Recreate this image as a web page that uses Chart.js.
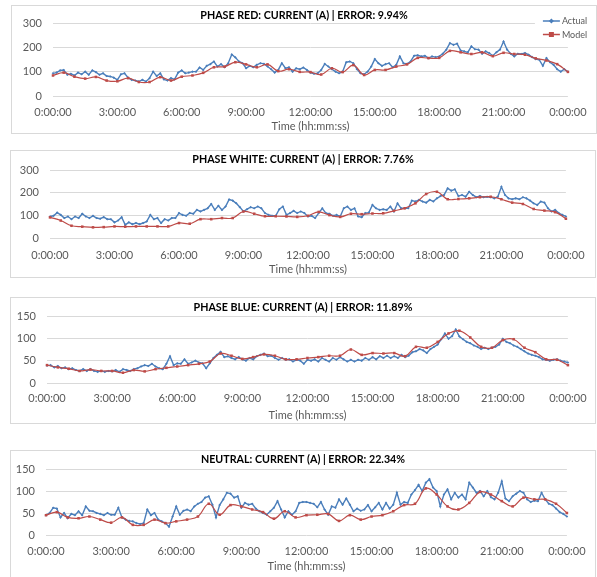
<!DOCTYPE html>
<html>
<head>
<meta charset="utf-8">
<script src="https://cdn.jsdelivr.net/npm/chart.js@4/dist/chart.umd.min.js"></script>
<style>
  html, body { margin: 0; padding: 0; background: #fff; }
  body { width: 597px; height: 577px; position: relative; overflow: hidden; }
  .panel { position: absolute; border: 1px solid #d9d9d9; box-sizing: border-box; background: #fff; }
  .panel canvas { display: block; }
</style>
</head>
<body>
<div class="panel" id="panel-red"><canvas id="chart-red"></canvas></div>
<div class="panel" id="panel-white"><canvas id="chart-white"></canvas></div>
<div class="panel" id="panel-blue"><canvas id="chart-blue"></canvas></div>
<div class="panel" id="panel-neutral"><canvas id="chart-neutral"></canvas></div>
<script>
// === Data: actual every 10 min (145 pts), model every 30 min (49 pts) ===
const timeTicks = ["0:00:00", "3:00:00", "6:00:00", "9:00:00", "12:00:00",
  "15:00:00", "18:00:00", "21:00:00", "0:00:00"];

const actualRed = [
  94, 97, 106, 108, 88, 92,
  85, 97, 90, 101, 88, 106,
  99, 88, 94, 83, 81, 76,
  67, 90, 94, 76, 67, 64,
  60, 67, 60, 74, 101, 83,
  94, 69, 64, 74, 69, 97,
  106, 94, 97, 101, 101, 118,
  108, 125, 132, 143, 122, 132,
  119, 136, 172, 160, 143, 136,
  115, 125, 119, 129, 136, 133,
  122, 111, 97, 108, 136, 115,
  119, 101, 115, 111, 118, 108,
  97, 92, 94, 108, 133, 122,
  111, 101, 94, 101, 140, 143,
  136, 111, 94, 90, 101, 122,
  153, 136, 125, 132, 136, 119,
  129, 164, 136, 133, 143, 167,
  169, 164, 167, 157, 164, 161,
  164, 175, 192, 219, 212, 217,
  189, 185, 181, 206, 194, 192,
  175, 185, 178, 167, 181, 192,
  226, 192, 175, 164, 175, 174,
  178, 171, 161, 153, 150, 125,
  157, 140, 129, 111, 101, 111,
  100
];
const modelRed = [
  85, 97, 80, 72, 79, 64, 61, 74, 58, 58,
  78, 64, 80, 85, 96, 119, 122, 140, 131, 119,
  131, 103, 111, 100, 99, 89, 115, 99, 128, 87,
  108, 108, 122, 131, 158, 157, 158, 187, 181, 174,
  181, 165, 179, 174, 171, 156, 147, 132, 100
];

const actualWhite = [
  95, 98, 112, 102, 88, 95,
  83, 95, 88, 107, 95, 88,
  98, 88, 85, 92, 83, 83,
  69, 77, 92, 58, 69, 61,
  66, 61, 66, 73, 102, 83,
  88, 66, 83, 77, 88, 88,
  110, 102, 98, 110, 107, 124,
  117, 124, 131, 150, 124, 142,
  124, 139, 170, 165, 153, 136,
  117, 127, 136, 131, 139, 131,
  110, 102, 98, 98, 127, 139,
  102, 110, 120, 110, 117, 110,
  95, 98, 88, 110, 131, 110,
  107, 98, 102, 95, 131, 139,
  124, 131, 95, 92, 110, 112,
  146, 131, 124, 127, 124, 139,
  117, 153, 131, 131, 131, 165,
  161, 168, 161, 156, 168, 161,
  175, 185, 190, 219, 209, 215,
  185, 190, 182, 204, 190, 180,
  185, 180, 182, 180, 175, 182,
  226, 190, 175, 171, 175, 171,
  180, 175, 165, 153, 146, 161,
  156, 131, 117, 124, 110, 102,
  95
];
const modelWhite = [
  91, 77, 54, 50, 47, 48, 51, 50, 51, 51,
  51, 51, 66, 63, 83, 83, 88, 88, 117, 107,
  96, 96, 95, 93, 98, 115, 101, 93, 107, 105,
  108, 109, 120, 131, 153, 194, 204, 171, 172, 175,
  180, 182, 171, 156, 150, 128, 121, 114, 85
];

const actualBlue = [
  39, 40, 35, 38, 33, 35,
  31, 33, 29, 27, 31, 27,
  31, 27, 25, 27, 25, 27,
  26, 29, 25, 31, 29, 27,
  31, 33, 37, 40, 38, 43,
  37, 33, 31, 43, 60, 40,
  44, 43, 53, 43, 46, 50,
  46, 44, 33, 44, 56, 63,
  70, 58, 60, 56, 53, 58,
  53, 50, 56, 53, 60, 63,
  66, 60, 61, 56, 52, 56,
  52, 53, 48, 52, 50, 43,
  52, 50, 53, 48, 56, 52,
  48, 56, 52, 58, 53, 48,
  52, 48, 52, 50, 56, 52,
  58, 53, 60, 56, 61, 56,
  60, 56, 63, 58, 61, 69,
  71, 76, 73, 67, 76, 81,
  86, 98, 111, 99, 105, 120,
  104, 98, 92, 89, 84, 81,
  76, 79, 76, 79, 81, 86,
  99, 92, 89, 84, 81, 76,
  71, 66, 63, 61, 58, 53,
  52, 50, 52, 53, 50, 48,
  46
];
const modelBlue = [
  40, 35, 32, 27, 30, 27, 27, 23, 29, 26,
  31, 34, 37, 40, 43, 48, 66, 61, 54, 58,
  64, 61, 53, 53, 56, 58, 61, 61, 75, 63,
  67, 66, 67, 60, 81, 79, 92, 111, 117, 102,
  81, 79, 96, 98, 79, 69, 53, 52, 40
];

const actualNeutral = [
  45, 50, 62, 60, 40, 50,
  38, 48, 45, 54, 45, 65,
  55, 54, 50, 48, 45, 50,
  46, 46, 62, 40, 35, 32,
  31, 27, 25, 27, 58, 45,
  50, 35, 31, 27, 19, 42,
  65, 46, 55, 58, 54, 65,
  71, 75, 85, 88, 69, 40,
  68, 81, 96, 94, 85, 88,
  62, 73, 69, 71, 60, 54,
  50, 46, 54, 62, 77, 58,
  40, 54, 46, 54, 73, 75,
  75, 73, 71, 63, 75, 58,
  46, 65, 62, 81, 69, 83,
  69, 54, 60, 55, 58, 68,
  54, 63, 73, 58, 73, 60,
  69, 96, 69, 75, 73, 92,
  102, 114, 100, 119, 127, 108,
  100, 65, 92, 104, 81, 96,
  85, 92, 81, 119, 108, 96,
  100, 88, 100, 86, 81, 96,
  122, 83, 77, 88, 94, 100,
  96, 81, 75, 78, 77, 96,
  81, 71, 68, 60, 52, 48,
  42
];
const modelNeutral = [
  45, 52, 40, 38, 42, 35, 28, 40, 23, 23,
  35, 27, 31, 35, 42, 71, 46, 68, 65, 58,
  52, 37, 54, 40, 45, 46, 48, 32, 45, 35,
  42, 45, 54, 68, 71, 106, 92, 65, 58, 73,
  98, 92, 77, 65, 85, 81, 81, 71, 50
];

// === Styling ===
const BLUE = "#4a7ebb";
const RED = "#be4b48";
const FONT = "Lato, 'Open Sans', sans-serif";
const TICK_COLOR = "#595959";

// Panel geometry (page px): box [x, y, w, h], plot edges, text centre lines
const panels = [
  { key: "red", title: "PHASE RED: CURRENT (A) | ERROR: 9.94%", actual: actualRed, model: modelRed,
    yMax: 300, yStep: 100, box: [11, 5, 586, 129], plot: { left: 53, right: 570, top: 23, bottom: 96 },
    titleY: 15, tickY: 112, xTitleY: 126, legend: true },
  { key: "white", title: "PHASE WHITE: CURRENT (A) | ERROR: 7.76%", actual: actualWhite, model: modelWhite,
    yMax: 300, yStep: 100, box: [10, 150, 586, 128], plot: { left: 50, right: 569, top: 170, bottom: 238 },
    titleY: 160, tickY: 255, xTitleY: 269 },
  { key: "blue", title: "PHASE BLUE: CURRENT (A) | ERROR: 11.89%", actual: actualBlue, model: modelBlue,
    yMax: 150, yStep: 50, box: [10, 297, 586, 127], plot: { left: 47, right: 575, top: 316, bottom: 383 },
    titleY: 308, tickY: 398, xTitleY: 415 },
  { key: "neutral", title: "NEUTRAL: CURRENT (A) | ERROR: 22.34%", actual: actualNeutral, model: modelNeutral,
    yMax: 150, yStep: 50, box: [10, 450, 586, 135], plot: { left: 46, right: 575, top: 469, bottom: 535 },
    titleY: 460, tickY: 551, xTitleY: 566 }
];

const toPoints = (arr, step) => arr.map((v, i) => ({ x: i * step, y: v }));

// Excel-style legend box in the top-right corner
const cornerLegend = {
  id: "cornerLegend",
  beforeDatasetsDraw(chart, args, opts) {
    if (!opts.show) return;
    const ctx = chart.ctx;
    const r = chart.chartArea.right;
    ctx.save();
    ctx.fillStyle = "#fff";
    ctx.fillRect(r - 33, opts.top, chart.width - r + 33, 28);
    const items = [
      { label: "Actual", color: BLUE, y: opts.top + 8, shape: "diamond" },
      { label: "Model", color: RED, y: opts.top + 21.5, shape: "square" }
    ];
    items.forEach((it) => {
      ctx.strokeStyle = it.color;
      ctx.fillStyle = it.color;
      ctx.lineWidth = 1.5;
      ctx.beginPath();
      ctx.moveTo(r - 25, it.y);
      ctx.lineTo(r - 8, it.y);
      ctx.stroke();
      const cx = r - 16.5;
      ctx.beginPath();
      if (it.shape === "diamond") {
        ctx.moveTo(cx, it.y - 2.5); ctx.lineTo(cx + 2.5, it.y);
        ctx.lineTo(cx, it.y + 2.5); ctx.lineTo(cx - 2.5, it.y);
      } else {
        ctx.rect(cx - 2.5, it.y - 2.5, 5, 5);
      }
      ctx.fill();
      ctx.fillStyle = TICK_COLOR;
      ctx.font = `9px ${FONT}`;
      ctx.textBaseline = "middle";
      ctx.fillText(it.label, r - 6, it.y + 0.5);
    });
    ctx.restore();
  }
};

function renderPanel(p) {
  const el = document.getElementById(`panel-${p.key}`);
  const [bx, by, bw, bh] = p.box;
  Object.assign(el.style, { left: bx + "px", top: by + "px", width: bw + "px", height: bh + "px" });
  const ox = bx + 1, oy = by + 1;
  const cw = bw - 2, ch = bh - 2;
  const canvas = document.getElementById(`chart-${p.key}`);
  canvas.width = cw; canvas.height = ch;
  canvas.style.width = cw + "px"; canvas.style.height = ch + "px";

  const rightSpace = cw - (p.plot.right - ox);
  const yWidth = p.plot.left - ox;
  const titleSize = 10.7, titleLH = titleSize * 1.2;
  const tickLH = 11 * 1.2;
  const xBottom = p.xTitleY - oy + tickLH / 2;
  const xHeight = xBottom - (p.plot.bottom - oy);

  new Chart(canvas, {
    type: "line",
    data: {
      datasets: [
        { label: "Actual", data: toPoints(p.actual, 1 / 6), borderColor: BLUE, backgroundColor: BLUE,
          borderWidth: 1.4, pointStyle: "rectRot", pointRadius: 1.3, pointBorderWidth: 0, tension: 0, order: 1 },
        { label: "Model", data: toPoints(p.model, 0.5), borderColor: RED, backgroundColor: RED,
          borderWidth: 1.2, pointStyle: "rect", pointRadius: 1.8, pointBorderWidth: 0, tension: 0.4, order: 0 }
      ]
    },
    options: {
      responsive: false,
      animation: false,
      clip: false,
      layout: { padding: { left: 0, right: 0, top: 0, bottom: ch - xBottom } },
      plugins: {
        legend: { display: false },
        tooltip: { enabled: false },
        title: {
          display: true, text: p.title, color: "#000",
          font: { family: FONT, size: titleSize, weight: "bold" },
          padding: { top: p.titleY - oy - titleLH / 2, bottom: (p.plot.top - p.titleY) - titleLH / 2 }
        },
        cornerLegend: { show: !!p.legend, top: 7 }
      },
      scales: {
        x: {
          type: "linear", min: 0, max: 24,
          ticks: {
            stepSize: 3, autoSkip: false, maxRotation: 0, color: TICK_COLOR,
            font: { family: FONT, size: 11 },
            padding: p.tickY - p.plot.bottom - tickLH / 2,
            callback: (v, i) => timeTicks[i]
          },
          grid: { display: false, drawTicks: false },
          border: { display: false },
          title: { display: true, text: "Time (hh:mm:ss)", color: TICK_COLOR, padding: 0,
            font: { family: FONT, size: 11 } },
          afterFit: (s) => { s.height = xHeight; }
        },
        y: {
          min: 0, max: p.yMax,
          ticks: { stepSize: p.yStep, color: TICK_COLOR, padding: 11, font: { family: FONT, size: 11 } },
          grid: { color: "#d9d9d9", drawTicks: false },
          border: { display: false },
          afterFit: (s) => { s.width = yWidth; }
        },
        // empty right axis: reserves the right margin so the title stays centred on the box
        yRight: {
          position: "right", min: 0, max: p.yMax,
          ticks: { display: false },
          grid: { display: false, drawTicks: false },
          border: { display: false },
          afterFit: (s) => { s.width = rightSpace; }
        }
      }
    },
    plugins: [cornerLegend]
  });
}

panels.forEach(renderPanel);
</script>
</body>
</html>
